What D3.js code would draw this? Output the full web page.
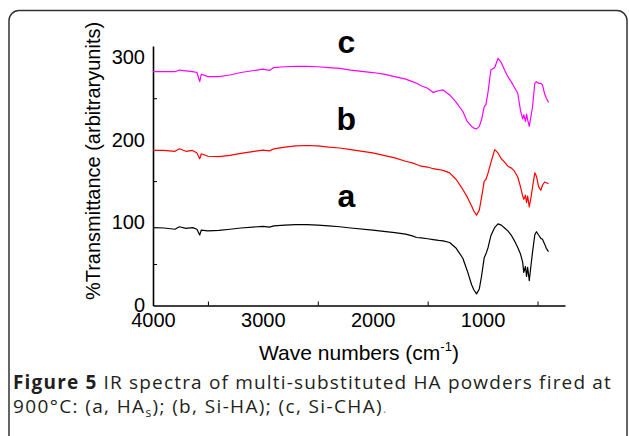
<!DOCTYPE html>
<html>
<head>
<meta charset="utf-8">
<script src="https://cdn.jsdelivr.net/npm/d3@7"></script>
<style>
  body { margin: 0; background: #fff; }
  svg { display: block; }
</style>
</head>
<body>
<svg id="chart" width="629" height="436"></svg>
<script>
// wave numbers shared by the three spectra (cm-1)
const waveNumbers = [4000, 3900, 3800, 3760, 3700, 3640, 3600, 3575, 3560, 3500, 3400, 3300, 3200, 3000, 2940, 2900, 2800, 2700, 2600, 2500, 2400, 2300, 2200, 2000, 1900, 1800, 1700, 1640, 1600, 1560, 1500, 1450, 1400, 1360, 1300, 1240, 1180, 1140, 1100, 1080, 1055, 1030, 1010, 985, 970, 950, 925, 890, 860, 830, 800, 770, 740, 710, 680, 655, 635, 625, 610, 600, 590, 575, 560, 545, 525, 510, 490, 470, 455, 435, 420, 400];

// a, HAs (black)
const seriesA = [94, 93.5, 92, 95, 93, 94, 92, 85, 91, 90, 90.5, 92, 93.5, 95.5, 94.5, 96, 97, 97.5, 97.5, 97, 96, 95, 93.5, 91, 89.5, 88, 86, 84, 82, 81.5, 80.5, 79.5, 78.5, 78, 76, 69, 57, 42, 25, 19, 14, 20, 35, 58, 62, 70, 84, 94, 98.5, 97, 93.5, 90, 85, 78, 70, 62, 52, 40, 47, 35, 46, 30, 48, 65, 85, 89, 85, 81, 80, 74, 69, 65];

// b, Si-HA (red)
const seriesB = [187, 187, 186, 189, 186, 187, 184, 177, 183, 180, 179.5, 181, 183.5, 187.5, 186.5, 189, 191, 192.5, 193, 192.5, 191, 190, 188, 184, 181, 178, 174, 172, 170, 168, 167, 165, 164, 163, 160, 152, 140, 131, 120, 114, 109, 115, 130, 150, 152, 160, 172, 188, 184, 177, 173, 168, 166, 162, 155, 143, 132, 128, 133, 124, 132, 119, 130, 143, 160, 156, 143, 139, 145, 149, 148, 147];

// c, Si-CHA (magenta)
const seriesC = [282, 282, 282, 284, 283, 282, 281, 270, 279, 276, 276, 278, 281, 285, 283.5, 287, 288, 288.5, 288.5, 288, 287, 286, 284, 281, 279, 276, 273, 270, 268, 265, 262, 257, 259, 260, 254, 245, 234, 222, 216, 214, 213, 216, 224, 240, 242, 258, 284, 287, 298, 293, 284, 276, 270, 263, 256, 235, 225, 230, 222, 231, 224, 216, 228, 240, 268, 270, 268, 268, 266, 255, 250, 245];

const seriesColors = ['#000000', '#ff0000', '#ff00ff'];
const seriesLabels = ['a', 'b', 'c'];
const labelValues = [119, 212, 305];
const labelWave = 2240;

const xTickLabels = [4000, 3000, 2000, 1000];
const xMinorTicks = [3500, 2500, 1500, 500];
const yTickLabels = [0, 100, 200, 300];
const yMinorTicks = [50, 150, 250];

const svg = d3.select('#chart');
const font = '"Liberation Sans", Arial, sans-serif';

// rounded frame around figure
svg.append('rect')
  .attr('x', 9).attr('y', 10.5)
  .attr('width', 618).attr('height', 440)
  .attr('rx', 10)
  .attr('fill', 'none')
  .attr('stroke', '#333')
  .attr('stroke-width', 1.5);

const x = d3.scaleLinear().domain([4000, 250]).range([153, 565]);
const y = d3.scaleLinear().domain([0, 313]).range([305.5, 46]);

// x axis
const xAxis = svg.append('g')
  .attr('transform', 'translate(0,' + y(0) + ')')
  .call(d3.axisBottom(x).tickValues(xTickLabels).tickSize(0).tickPadding(7).tickFormat(d3.format('d')));
xAxis.select('.domain').attr('stroke-width', 1.6);
xAxis.selectAll('text').attr('font-family', font).attr('font-size', 20).attr('fill', '#000');

svg.append('g')
  .attr('transform', 'translate(0,' + y(0) + ')')
  .call(d3.axisBottom(x).tickValues(xMinorTicks).tickSize(-4).tickFormat(''))
  .select('.domain').remove();

// y axis
const yAxis = svg.append('g')
  .attr('transform', 'translate(' + x(4000) + ',0)')
  .call(d3.axisLeft(y).tickValues(yTickLabels).tickSize(0).tickPadding(8));
yAxis.select('.domain').attr('stroke-width', 1.6);
yAxis.selectAll('text').attr('font-family', font).attr('font-size', 20).attr('fill', '#000');

svg.append('g')
  .attr('transform', 'translate(' + x(4000) + ',0)')
  .call(d3.axisLeft(y).tickValues(yMinorTicks).tickSize(-4).tickFormat(''))
  .select('.domain').remove();

// axis titles
const xTitle = svg.append('text')
  .attr('x', 359).attr('y', 360)
  .attr('text-anchor', 'middle')
  .attr('font-family', font).attr('font-size', 21);
xTitle.append('tspan').text('Wave numbers (cm');
xTitle.append('tspan').attr('font-size', 13).attr('dy', -9).text('-1');
xTitle.append('tspan').attr('dy', 9).text(')');

svg.append('text')
  .attr('transform', 'translate(100,161) rotate(-90)')
  .attr('text-anchor', 'middle')
  .attr('font-family', font).attr('font-size', 20)
  .text('%Transmittance (arbitraryunits)');

// spectra
const allSeries = [seriesA, seriesB, seriesC];
const line = d3.line()
  .x((d, i) => x(waveNumbers[i]))
  .y(d => y(d));

svg.selectAll('path.spectrum')
  .data(allSeries)
  .enter()
  .append('path')
  .attr('class', 'spectrum')
  .attr('d', line)
  .attr('fill', 'none')
  .attr('stroke', (d, i) => seriesColors[i])
  .attr('stroke-width', 1.2)
  .attr('stroke-linejoin', 'round');

// curve letters
svg.selectAll('text.lbl')
  .data(seriesLabels)
  .enter()
  .append('text')
  .attr('class', 'lbl')
  .attr('x', x(labelWave))
  .attr('y', (d, i) => y(labelValues[i]))
  .attr('text-anchor', 'middle')
  .attr('font-family', font)
  .attr('font-size', 32)
  .attr('font-weight', 'bold')
  .text(d => d);

// caption
const capFont = '"Open Sans", "Noto Sans", sans-serif';
const capSize = 19;

const cap2 = svg.append('text')
  .attr('x', 13).attr('y', 413)
  .attr('font-family', capFont).attr('font-size', capSize).attr('fill', '#231f20');
cap2.append('tspan').text('900°C: (a, HA');
cap2.append('tspan').attr('font-size', 12).attr('dy', 4).text('s');
cap2.append('tspan').attr('dy', -4).text('); (b, Si-HA); (c, Si-CHA)');
const w2 = cap2.node().getComputedTextLength();
cap2.attr('letter-spacing', (370 - w2) / 40);
cap2.append('tspan').attr('font-size', 12).attr('fill', '#888').attr('letter-spacing', 0).text('.');

const cap1 = svg.append('text')
  .attr('x', 13).attr('y', 389)
  .attr('font-family', capFont).attr('font-size', capSize).attr('fill', '#231f20');
cap1.append('tspan').attr('font-weight', 'bold').text('Figure 5');
cap1.append('tspan').text(' IR spectra of multi-substituted HA powders fired at');
const w1 = cap1.node().getComputedTextLength();
cap1.attr('letter-spacing', (612 - 13 - w1) / 60);
</script>
</body>
</html>
